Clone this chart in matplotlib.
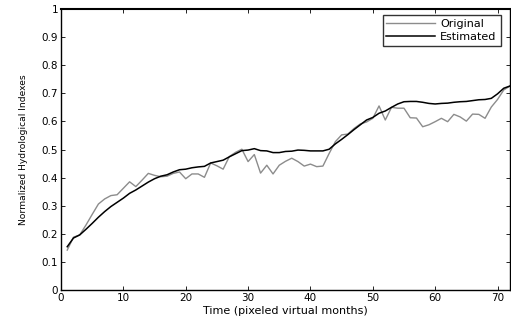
import matplotlib.pyplot as plt

plt.rcParams['font.family'] = ['DejaVu Sans']

months = list(range(1, 73))
original = [0.142, 0.188, 0.196, 0.231, 0.269, 0.306, 0.324, 0.336, 0.339, 0.362,
            0.385, 0.368, 0.391, 0.415, 0.408, 0.403, 0.405, 0.415, 0.420, 0.396,
            0.413, 0.413, 0.401, 0.452, 0.442, 0.430, 0.475, 0.490, 0.501, 0.457,
            0.482, 0.416, 0.444, 0.413, 0.444, 0.458, 0.469, 0.457, 0.441, 0.448,
            0.439, 0.441, 0.486, 0.528, 0.552, 0.555, 0.575, 0.591, 0.598, 0.611,
            0.655, 0.605, 0.650, 0.647, 0.647, 0.613, 0.612, 0.581, 0.588, 0.599,
            0.611, 0.599, 0.625, 0.616, 0.601, 0.626, 0.625, 0.611, 0.651, 0.678,
            0.712, 0.726]
estimated = [0.154, 0.185, 0.196, 0.216, 0.237, 0.259, 0.279, 0.297, 0.312, 0.327,
             0.344, 0.356, 0.370, 0.384, 0.396, 0.405, 0.410, 0.420, 0.428, 0.430,
             0.435, 0.438, 0.440, 0.452, 0.457, 0.462, 0.474, 0.485, 0.496, 0.498,
             0.503, 0.496, 0.495, 0.489, 0.489, 0.493, 0.494, 0.498, 0.497, 0.495,
             0.495, 0.495, 0.501, 0.520, 0.536, 0.553, 0.571, 0.588, 0.605, 0.614,
             0.629, 0.637, 0.650, 0.662, 0.670, 0.671, 0.671, 0.668, 0.664, 0.662,
             0.664, 0.665, 0.668, 0.670, 0.671, 0.674, 0.677, 0.678, 0.682, 0.698,
             0.718, 0.726]
xticks = [0, 10, 20, 30, 40, 50, 60, 70]
yticks = [0, 0.1, 0.2, 0.3, 0.4, 0.5, 0.6, 0.7, 0.8, 0.9, 1]
yticklabels = ['0', '0.1', '0.2', '0.3', '0.4', '0.5', '0.6', '0.7', '0.8', '0.9', '1']

fig = plt.figure(figsize=(5.11, 3.25), dpi=100)
ax = fig.add_axes([61 / 511, 35 / 325, 449 / 511, 281 / 325])

ax.plot(months, original, color='#8c8c8c', lw=1.0, label='Original')
ax.plot(months, estimated, color='black', lw=1.1, label='Estimated')

ax.set_xlim(0, 72)
ax.set_ylim(0, 1)
ax.set_xticks(xticks)
ax.set_yticks(yticks)
ax.set_yticklabels(yticklabels)
ax.tick_params(direction='in', length=3, width=0.6, top=True, right=True,
               labelsize=7.5, pad=2)
for s in ax.spines.values():
    s.set_linewidth(1.0)
ax.spines['top'].set_linewidth(1.5)

ax.set_xlabel('Time (pixeled virtual months)', fontsize=8, labelpad=2)
ax.set_ylabel('Normalized Hydrological Indexes', fontsize=6.6, labelpad=10)

leg = ax.legend(loc='upper right', bbox_to_anchor=(0.979, 0.979), fontsize=8,
                frameon=True, fancybox=False, borderaxespad=0,
                handlelength=4.4, handletextpad=0.45,
                borderpad=0.35, labelspacing=0.3)
leg.get_frame().set_edgecolor('black')
leg.get_frame().set_linewidth(1.0)

fig.savefig('out.png', dpi=100)
